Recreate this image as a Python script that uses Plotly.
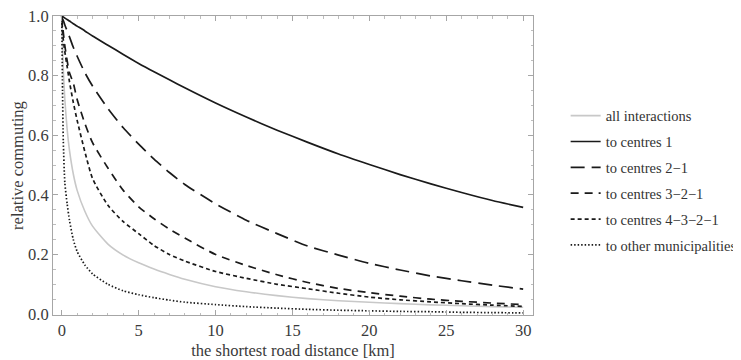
import plotly.graph_objects as go

# distance grid [km]
distance_km = [0, 0.05, 0.1, 0.2, 0.35, 0.5, 0.75, 1, 1.5, 2, 3, 4, 5, 6, 7, 8,
               10, 12, 14, 16, 18, 20, 22, 24, 26, 28, 30]

all_interactions = [1, 0.90, 0.82, 0.72, 0.62, 0.55, 0.47, 0.415, 0.345, 0.295, 0.235, 0.198,
                    0.172, 0.151, 0.133, 0.117, 0.092, 0.075, 0.062, 0.052, 0.045, 0.040,
                    0.035, 0.031, 0.028, 0.025, 0.023]
centres_1 = [1, 0.998, 0.997, 0.993, 0.988, 0.983, 0.974, 0.966, 0.950, 0.933, 0.902, 0.871,
             0.841, 0.813, 0.786, 0.759, 0.708, 0.661, 0.617, 0.576, 0.537, 0.502, 0.468,
             0.437, 0.408, 0.381, 0.358]
centres_2_1 = [1, 0.99, 0.985, 0.97, 0.95, 0.93, 0.895, 0.865, 0.81, 0.765, 0.69, 0.625,
               0.57, 0.52, 0.475, 0.435, 0.37, 0.315, 0.27, 0.228, 0.198, 0.17, 0.148,
               0.128, 0.112, 0.097, 0.084]
centres_3_2_1 = [1, 0.97, 0.945, 0.9, 0.85, 0.81, 0.775, 0.72, 0.64, 0.575, 0.49, 0.415,
                 0.36, 0.32, 0.285, 0.255, 0.20, 0.163, 0.132, 0.106, 0.086, 0.072, 0.060,
                 0.050, 0.043, 0.037, 0.032]
centres_4_3_2_1 = [1, 0.95, 0.92, 0.88, 0.83, 0.78, 0.71, 0.65, 0.545, 0.455, 0.365, 0.31,
                   0.27, 0.23, 0.20, 0.178, 0.143, 0.12, 0.10, 0.085, 0.07, 0.057, 0.048,
                   0.041, 0.035, 0.030, 0.026]
other_municipalities = [1, 0.75, 0.58, 0.44, 0.37, 0.315, 0.25, 0.21, 0.165, 0.135, 0.10,
                        0.078, 0.065, 0.055, 0.047, 0.040, 0.032, 0.025, 0.020, 0.016,
                        0.013, 0.011, 0.009, 0.008, 0.006, 0.005, 0.004]

series = [
    ("all interactions", all_interactions, "#c8c8c8", "solid", 1.6),
    ("to centres 1", centres_1, "#1a1a1a", "solid", 1.7),
    ("to centres 2\u22121", centres_2_1, "#1a1a1a", "14px,7px", 1.7),
    ("to centres 3\u22122\u22121", centres_3_2_1, "#1a1a1a", "8px,6px", 1.7),
    ("to centres 4\u22123\u22122\u22121", centres_4_3_2_1, "#1a1a1a", "4px,3px", 1.7),
    ("to other municipalities", other_municipalities, "#1a1a1a", "1.5px,2px", 1.7),
]

FONT = "Liberation Serif, Times New Roman, serif"

fig = go.Figure()
for i, (name, ys, color, dash, w) in enumerate(series):
    fig.add_trace(go.Scatter(
        x=distance_km, y=ys, mode="lines", name=name, legendgroup=f"g{i}",
        line=dict(color=color, dash=dash, width=w, shape="spline", smoothing=0.6),
    ))

axis_common = dict(
    showgrid=False, zeroline=False, showline=True, linecolor="#a6a6a6", linewidth=1,
    mirror="allticks", ticks="inside", ticklen=5, tickcolor="#a6a6a6",
    tickfont=dict(family=FONT, size=16.5, color="#3a3a3a"),
    automargin=False, ticklabeloverflow="allow",
)

fig.update_xaxes(
    range=[-0.57, 30.64], tickvals=[0, 5, 10, 15, 20, 25, 30],
    minor=dict(ticks="inside", dtick=1, ticklen=2.5, tickcolor="#bdbdbd"),
    title=dict(text="the shortest road distance [km]", standoff=5,
               font=dict(family=FONT, size=16.5, color="#3a3a3a")),
    **axis_common,
)
fig.update_yaxes(
    range=[-0.003, 1.0], tickvals=[0, 0.2, 0.4, 0.6, 0.8, 1.0], tickformat=".1f",
    minor=dict(ticks="inside", dtick=0.05, ticklen=2.5, tickcolor="#bdbdbd"),
    title=dict(text="relative commuting", standoff=3,
               font=dict(family=FONT, size=16.5, color="#3a3a3a")),
    **axis_common,
)

# page body has an 8px default margin; the figure is sized to end at the window edge
fig.update_layout(
    width=733, height=352,
    margin=dict(l=45, r=208, t=8, b=45, autoexpand=False),
    plot_bgcolor="white", paper_bgcolor="white",
    showlegend=True,
    legend=dict(x=1.068, y=0.72, xanchor="left", yanchor="top",
                font=dict(family=FONT, size=14.5, color="#333333"),
                tracegroupgap=4, bgcolor="rgba(0,0,0,0)"),
)

fig.write_html("out.html")
